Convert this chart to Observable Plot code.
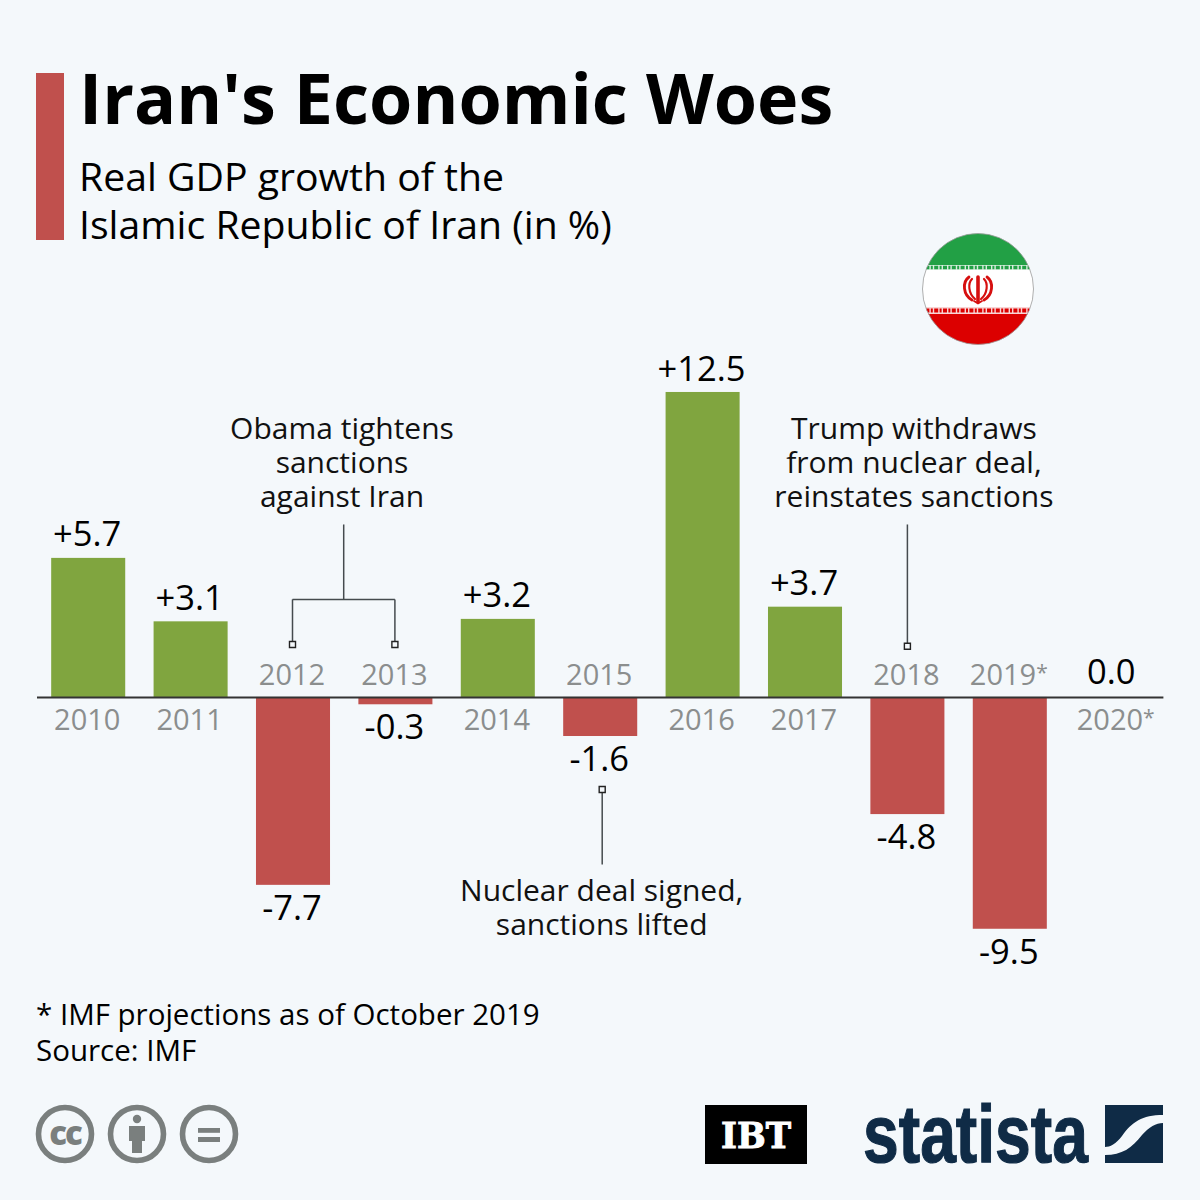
<!DOCTYPE html>
<html>
<head>
<meta charset="utf-8">
<script src="https://cdn.jsdelivr.net/npm/d3@7"></script>
<script src="https://cdn.jsdelivr.net/npm/@observablehq/plot@0.6"></script>
<style>
html,body{margin:0;padding:0;background:#f4f8fb;}
body{width:1200px;height:1200px;position:relative;overflow:hidden;font-family:"Open Sans",sans-serif;color:#000;}
.abs{position:absolute;white-space:pre;}
#bar{left:36px;top:73px;width:28px;height:167px;background:#c0504d;}
#title{left:79px;top:50px;font-size:70px;font-weight:700;line-height:95px;}
#sub{left:79px;top:152px;font-size:39.2px;line-height:48px;}
#cap{left:36px;top:996px;font-size:29.5px;line-height:36px;}
#chart{left:0;top:340px;}
svg.deco{position:absolute;overflow:visible;}
</style>
</head>
<body>
<div id="bar" class="abs"></div>
<div id="title" class="abs">Iran's Economic Woes</div>
<div id="sub" class="abs">Real GDP growth of the
Islamic Republic of Iran (in %)</div>
<div id="chart" class="abs"></div>
<div id="cap" class="abs">* IMF projections as of October 2019
Source: IMF</div>

<svg class="deco" style="left:922px;top:233px" width="112" height="112" viewBox="0 0 112 112">
  <defs><clipPath id="fc"><circle cx="56" cy="56" r="55.5"/></clipPath></defs>
  <g clip-path="url(#fc)">
    <rect width="112" height="112" fill="#fff"/>
    <rect width="112" height="32" fill="#22a045"/>
    <rect y="32" width="112" height="5" fill="#dbeee0"/>
    <path d="M0 34.5H112" stroke="#22a045" stroke-width="3.5" stroke-dasharray="2 1.4 4 1.4"/>
    <rect y="74" width="112" height="7" fill="#f8d5d5"/>
    <path d="M0 77.5H112" stroke="#dc0000" stroke-width="4" stroke-dasharray="2 1.4 4 1.4"/>
    <rect y="81" width="112" height="31" fill="#dc0000"/>
  </g>
  <circle cx="56" cy="56" r="55.5" fill="none" stroke="#9a9a9a" stroke-width="0.8"/>
  <g fill="none" stroke="#d60f0f" stroke-linecap="round">
    <path d="M56 44V69" stroke-width="3.6"/>
    <path d="M50 46C46 50 46 60 53 66" stroke-width="2.2"/>
    <path d="M62 46C66 50 66 60 59 66" stroke-width="2.2"/>
    <path d="M47 44C40 49 41 62 50 67" stroke-width="2.8"/>
    <path d="M65 44C72 49 71 62 62 67" stroke-width="2.8"/>
    <path d="M52 68L56 70.5L60 68" stroke-width="1.8"/>
  </g>
</svg>

<svg class="deco" style="left:36px;top:1105px" width="204" height="60" viewBox="0 0 204 60">
  <g fill="none" stroke="#7a7f7e" stroke-width="5.6">
    <circle cx="29" cy="29" r="26.5"/>
    <circle cx="101" cy="29" r="26.5"/>
    <circle cx="173" cy="29" r="26.5"/>
  </g>
  <text x="29" y="40" text-anchor="middle" font-family="Open Sans" font-weight="800" font-size="33" letter-spacing="-2" fill="#7a7f7e">cc</text>
  <g fill="#7a7f7e">
    <circle cx="101" cy="14" r="4.2"/>
    <rect x="93" y="21" width="16" height="15"/>
    <rect x="96" y="30" width="10" height="18"/>
    <rect x="162" y="23" width="22" height="4.8"/>
    <rect x="162" y="32" width="22" height="5"/>
  </g>
</svg>

<svg class="deco" style="left:705px;top:1105px" width="102" height="59" viewBox="0 0 102 59">
  <rect width="102" height="59" fill="#000"/>
  <text x="51" y="43" text-anchor="middle" font-family="DejaVu Serif" font-weight="700" font-size="36" textLength="70" lengthAdjust="spacingAndGlyphs" stroke="#fff" stroke-width="1" fill="#fff">IBT</text>
</svg>

<svg class="deco" style="left:860px;top:1100px" width="310" height="70" viewBox="0 0 310 70">
  <text x="3" y="62" font-family="Liberation Sans" font-weight="700" font-size="82" textLength="225" lengthAdjust="spacingAndGlyphs" stroke="#0f2b46" stroke-width="1.2" fill="#0f2b46">statista</text>
  <path d="M245 5H303V15C282 15 272 22 262 36C256 44 250 47 245 47Z" fill="#0f2b46"/>
  <path d="M303 23V63H245V55C262 55 272 48 282 35C289 27 296 23 303 23Z" fill="#0f2b46"/>
</svg>

<script>
const years = ["2010","2011","2012","2013","2014","2015","2016","2017","2018","2019","2020"];
const growth = [5.7,3.1,-7.7,-0.3,3.2,-1.6,12.5,3.7,-4.8,-9.5,0.0];
const valueLabels = ["+5.7","+3.1","-7.7","-0.3","+3.2","-1.6","+12.5","+3.7","-4.8","-9.5","0.0"];
const yearLabels = ["2010","2011","2012","2013","2014","2015","2016","2017","2018","2019*","2020*"];
const notes = ["Obama tightens\nsanctions\nagainst Iran","Nuclear deal signed,\nsanctions lifted","Trump withdraws\nfrom nuclear deal,\nreinstates sanctions"];

const GREEN="#80a53f", RED="#c0504d", GREY="#8b8e8e", LINE="#454b4e", BG="#f4f8fb";
const rows = years.map((year,i)=>({year,value:growth[i],label:valueLabels[i],tick:yearLabels[i]}));
const pos = rows.filter(d=>d.value>0), neg = rows.filter(d=>d.value<0), zero = rows.filter(d=>d.value===0);
const FONT='"Open Sans",sans-serif';

const chart = Plot.plot({
  width:1200, height:640, margin:0,
  style:{background:"transparent",fontFamily:FONT,overflow:"visible"},
  x:{domain:years,range:[37,1163.4],paddingInner:0.277,paddingOuter:0.1385,round:false,axis:null},
  y:{domain:[-11.6,14.63],range:[640,0],axis:null},
  marks:[
    Plot.barY(rows,{x:"year",y:"value",fill:d=>d.value<0?RED:GREEN}),
    Plot.ruleY([0],{stroke:"#333",strokeWidth:2,insetLeft:37,insetRight:36.6}),
    // value labels
    Plot.text(pos,{x:"year",y:"value",text:"label",dx:-1.5,dy:-23,fontSize:34.5,fill:"#000"}),
    Plot.text(neg,{x:"year",y:"value",text:"label",dx:-1.5,dy:23.5,fontSize:34.5,fill:"#000"}),
    Plot.text(zero,{x:"year",y:"value",text:"label",dx:-1.5,dy:-25,fontSize:34.5,fill:"#000"}),
    // year labels
    Plot.text(pos,{x:"year",y:0,text:"tick",dx:-1.5,dy:23,fontSize:29,fill:GREY}),
    Plot.text(neg,{x:"year",y:0,text:"tick",dx:-1.5,dy:-22,fontSize:29,fill:GREY}),
    Plot.text(zero,{x:"year",y:0,text:"tick",dx:3,dy:23,fontSize:29,fill:GREY}),
    // Obama bracket
    Plot.link([{a:"2012",b:"2013",v:4.02}],{x1:"a",x2:"b",y1:"v",y2:"v",dx:-1,stroke:LINE,strokeWidth:1.5}),
    Plot.link([{a:"2012",v:4.02},{a:"2013",v:4.02}],{x1:"a",x2:"a",y1:"v",y2:2.17,dx:-1,stroke:LINE,strokeWidth:1.5}),
    Plot.link([{a:"2012",v:4.02}],{x1:"a",x2:"a",y1:"v",y2:7.09,dx:50.2,stroke:LINE,strokeWidth:1.5}),
    // Nuclear deal
    Plot.link([{a:"2015"}],{x1:"a",x2:"a",y1:-3.77,y2:-6.85,dx:1.5,stroke:LINE,strokeWidth:1.5}),
    // Trump
    Plot.link([{a:"2018"}],{x1:"a",x2:"a",y1:7.09,y2:2.1,dx:-0.5,stroke:LINE,strokeWidth:1.5}),
    // square markers
    Plot.dot([{a:"2012",v:2.17},{a:"2013",v:2.17}],{x:"a",y:"v",dx:-1,symbol:"square",r:3.4,fill:BG,stroke:"#222",strokeWidth:1.4}),
    Plot.dot([{a:"2018",v:2.1}],{x:"a",y:"v",dx:-0.5,symbol:"square",r:3.4,fill:BG,stroke:"#222",strokeWidth:1.4}),
    Plot.dot([{a:"2015",v:-3.77}],{x:"a",y:"v",dx:1.5,symbol:"square",r:3.4,fill:BG,stroke:"#222",strokeWidth:1.4}),
    // annotations
    Plot.text([notes[0]],{x:()=>"2012",y:()=>7.82,dx:48.5,text:d=>d,fontSize:30,lineHeight:1.133,lineAnchor:"bottom",fill:"#111"}),
    Plot.text([notes[1]],{x:()=>"2015",y:()=>-7.34,dx:1,text:d=>d,fontSize:30,lineHeight:1.133,lineAnchor:"top",fill:"#111"}),
    Plot.text([notes[2]],{x:()=>"2018",y:()=>7.82,dx:6,text:d=>d,fontSize:30,lineHeight:1.133,lineAnchor:"bottom",fill:"#111"})
  ]
});
// the two projected years carry a small raised asterisk
for (const t of chart.querySelectorAll("text")) {
  const s = t.textContent;
  if (/^\d{4}\*$/.test(s)) {
    t.textContent = s.slice(0,4);
    const star = document.createElementNS("http://www.w3.org/2000/svg","tspan");
    star.setAttribute("font-size","21");
    star.setAttribute("dy","-5");
    star.textContent = "*";
    t.appendChild(star);
  }
}
document.getElementById("chart").appendChild(chart);
</script>
</body>
</html>
